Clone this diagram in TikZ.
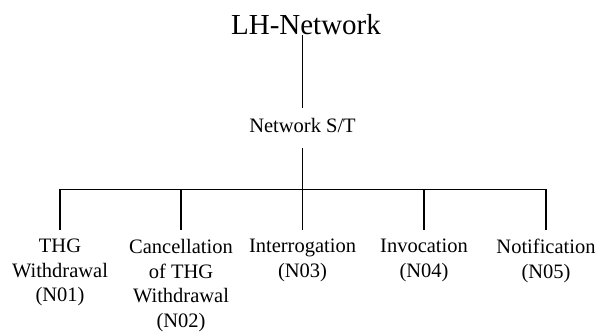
\documentclass[tikz,border=0pt]{standalone}
\usepackage{fontspec}
\setmainfont{Liberation Serif}
\usetikzlibrary{positioning}

\begin{document}
\begin{tikzpicture}[x=0.5pt, y=0.5pt,
    leaf/.style={anchor=north, align=center, inner xsep=0pt, inner ysep=4.5pt,
      font=\fontsize{10.25}{12.25}\selectfont},
    conn/.style={black, line width=0.6pt}]
  \useasboundingbox (0,0) rectangle (597,331);

  % root and the S/T level
  \node[anchor=base, inner sep=0pt, font=\fontsize{14.5}{17}\selectfont] (lh) at (306,296) {LH-Network};
  \node[anchor=base, inner xsep=0pt, inner ysep=5.5pt, text height=7pt, text depth=2pt,
    font=\fontsize{10.25}{12.25}\selectfont] (st) at (302.5,198) {Network S/T};
  \draw[conn] (lh.base -| st.north) -- (st.north);

  % leaves
  \node[leaf] (n01) at (60,101) {THG\\Withdrawal\\(N01)};
  \node[leaf] (n02) at (181,101) {Cancellation\\of THG\\Withdrawal\\(N02)};
  \node[leaf] (n03) at (302.5,101) {Interrogation\\(N03)};
  \node[leaf] (n04) at (424,101) {Invocation\\(N04)};
  \node[leaf] (n05) at (546,101) {Notification\\(N05)};

  % bar
  \path (st.south) ++(0,-41) coordinate (bar);
  \draw[conn] (st.south) -- (bar);
  \foreach \n in {n01,n02,n03,n04,n05} {
    \draw[conn] (bar) -| (\n.north);
  }
\end{tikzpicture}
\end{document}
